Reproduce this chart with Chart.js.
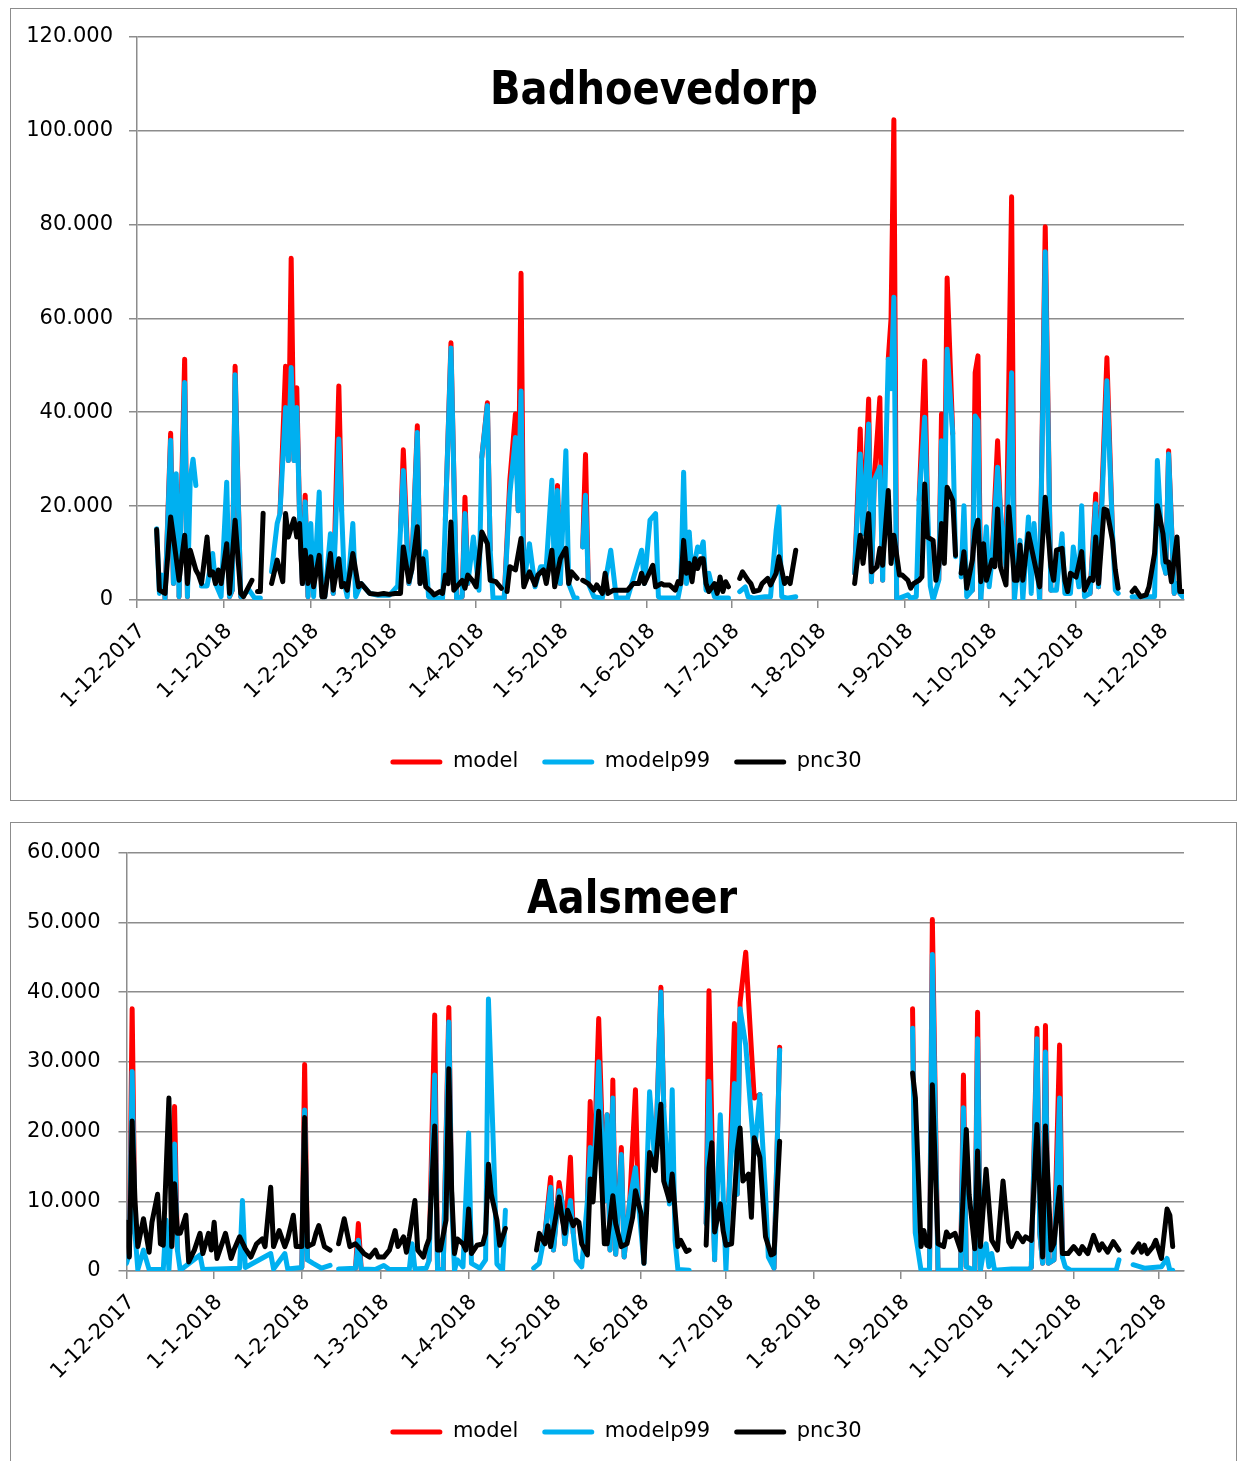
<!DOCTYPE html>
<html>
<head>
<meta charset="utf-8">
<script src="https://cdn.jsdelivr.net/npm/chart.js@4.4.0/dist/chart.umd.min.js"></script>
<style>
  html, body { margin: 0; padding: 0; background: #fff; }
  body { width: 1240px; height: 1461px; position: relative; overflow: hidden; }
  .frame { position: absolute; box-sizing: border-box; border: 1.5px solid #8c8c8c; background: #fff; }
  #f1 { left: 10px; top: 8px; width: 1227px; height: 793px; }
  #f2 { left: 10px; top: 822px; width: 1227px; height: 660px; }
  canvas { position: absolute; left: 10px; }
  #c1 { top: 8px; }
  #c2 { top: 822px; }
</style>
</head>
<body>
<div class="frame" id="f1"></div>
<div class="frame" id="f2"></div>
<canvas id="c1" width="1226" height="792"></canvas>
<canvas id="c2" width="1226" height="640"></canvas>
<script>
// x = days since 1-12-2017, y = thousands; [day, null] marks a break in the line
const monthDays = [0, 31, 62, 90, 121, 151, 182, 212, 243, 274, 304, 335, 365];
const monthLabels = ['1-12-2017', '1-1-2018', '1-2-2018', '1-3-2018', '1-4-2018', '1-5-2018', '1-6-2018',
  '1-7-2018', '1-8-2018', '1-9-2018', '1-10-2018', '1-11-2018', '1-12-2018'];
const seriesNames = ['model', 'modelp99', 'pnc30'];
const seriesColors = ['#ff0000', '#00b0f0', '#000000'];

// Badhoevedorp
const bModel = [[10,0.4],[12,35.5],[13,3.5],[14,null],[15,0.7],[17,51.3],[18,0.7],[18.5,null],
  [33,0.7],[34,2.1],[35,49.8],[37,0.7],[38,null],
  [51,18.4],[53,49.8],[54,29.7],[55,72.8],[56,29.7],[57,45.2],[58,17.7],[59,3.5],[60,22.3],[61,0.7],[61.5,null],
  [70,1.4],[72,45.6],[73,19.1],[73.5,null],[94,15],[95,32],[97,3.5],[97.5,null],[98,6.4],[100,37.1],[101,3.5],[101.5,null],
  [110,17],[112,54.8],[114,0.4],[115,null],[116,0.7],[117,21.9],[118,3.5],[119,null],[123,30.4],[125,42],[126,10.6],[126.5,null],
  [131,0.4],[133,25.5],[135,39.6],[136,19],[137,69.6],[138,3.5],[139,null],[149,3.5],[150,24.4],[151,3.5],[152,null],
  [159,11.3],[160,31],[161,3.5],[162,null],
  [256,5.7],[258,36.4],[259,14.1],[261,42.8],[262,3.9],[263,25.5],[265,43.1],[266,4.2],[267,null],
  [268,51.3],[269,60],[270,102.3],[271,0.4],[272,null],[279,21.2],[281,50.9],[282,20],[283,null],
  [286,4.2],[287,39.6],[288,17],[289,68.6],[291,35.4],[291.5,null],[298,2.1],[299,48.4],[300,52],[301,0],[302,null],
  [305,8.5],[307,33.9],[308,19.1],[308.5,null],[310,7],[312,85.9],[313,0],[314,null],[322,0],[324,79.5],[326,2.1],[327,null],
  [340,1.4],[342,22.6],[343,2.8],[346,51.6],[348,14.1],[348.5,null],[367,5.7],[368,31.8],[370,1.4]];

const bP99 = [[7,15.2],[8,1.4],[9,5.3],[10,0.4],[12,34],[13,3.5],[14,26.9],[15,0.7],[17,46.3],[18,0.7],[19,26],[20,30],[21,24.4],[22,null],
  [23,3],[25,3],[27,9.9],[28,3.5],[30,0.7],[32,25.1],[33,0.7],[34,2.1],[35,48],[37,0.7],[40,2.1],[42,0.4],[44,0.4],[46,null],
  [48,6],[50,16.3],[51,18.4],[53,41],[54,29.7],[55,49.5],[56,29.7],[57,41],[58,17.7],[59,3.5],[60,20.9],[61,0.7],[62,16.3],[63,0.7],
  [65,23],[66,0.7],[67,0.7],[69,14.1],[70,1.4],[72,34.3],[73,19.1],[74,3.5],[75,0.7],[77,16.3],[78,0.7],[80,3.5],[83,1.4],[86,1],[90,1],
  [93,3],[94,15],[95,27.6],[97,3.5],[98,6.4],[100,35.7],[101,3.5],[103,10.3],[104,0.7],[106,0.4],[109,0.4],[110,17],[112,53.7],[114,0.4],
  [116,0.7],[117,18.4],[118,3.5],[120,13.4],[122,2.1],[123,30.4],[125,41.4],[126,10.6],[127,0.4],[131,0.4],[133,22.6],[135,34.6],[136,19],
  [137,44.5],[138,3.5],[140,12],[142,2.8],[144,7.1],[146,7.1],[148,25.5],[149,3.5],[150,23.3],[151,3.5],[153,31.8],[154,3.5],[156,0.4],
  [157,0.4],[158,null],[159,11.3],[160,22.3],[161,3.5],[163,0.7],[166,0.4],[169,10.6],[171,0.4],[175,0.4],[180,10.6],[181,3.5],[183,17],
  [185,18.4],[186,0.7],[187,0.4],[193,0.4],[194,3.5],[195,27.2],[196,3.5],[197,14.5],[198,5.3],[200,11.3],[201,10.3],[202,12.4],[203,2.1],
  [204,5.7],[206,0.7],[208,0.4],[211,0.4],[213,null],[215,1.8],[217,2.8],[218,0.7],[220,0.4],[224,0.7],[226,0.7],[228,14.8],[229,19.8],
  [230,0.7],[232,0.4],[235,0.7],[245,null],[256,5.7],[258,31.1],[259,14.1],[261,37.5],[262,3.9],[263,25.5],[265,28.3],[266,4.2],[268,51.3],
  [269,45],[270,64.5],[271,0.4],[272,0.4],[275,1.1],[276,0.4],[278,0.7],[279,21.2],[281,38.9],[282,20],[283,3],[284,0],[286,4.2],[287,33.9],
  [288,17],[289,53.4],[291,35.4],[292,9.2],[293,null],[294,4.9],[295,20.1],[296,0.7],[298,2.1],[299,39.2],[300,38.2],[301,0],[303,15.6],
  [304,2.8],[305,8.5],[307,28.3],[308,19.1],[309,13],[310,7],[312,48.4],[313,0],[315,12.7],[316,0],[318,17.7],[319,1.4],[320,16.3],[322,0],
  [324,74.2],[326,2.1],[328,2.1],[330,14.1],[331,1.4],[333,1.4],[334,11.3],[336,2.8],[337,20.1],[338,0.7],[340,1.4],[342,20.5],[343,2.8],
  [346,46.7],[348,14.1],[349,2.1],[350,1.4],[352,null],[355,0.7],[363,0.7],[364,29.7],[366,7.8],[367,5.7],[368,31.1],[370,1.4],[371,3.5],
  [372,1.4],[373,0.7]];

const bPnc = [[7,15],[8,2.1],[10,1.4],[12,17.7],[13,13.4],[15,4.2],[17,13.8],[18,3.5],[19,10.6],[21,6.4],[22,5.3],[23,3.5],[25,13.4],
  [26,5.3],[27,6],[28,3.5],[29,6.4],[30,3.5],[32,12],[33,1.4],[35,17],[37,1.4],[38,0.7],[41,4.2],[42,null],[43,1.8],[44,1.8],[45,18.5],
  [46,null],[48,3.5],[50,8.5],[52,3.9],[53,18.4],[54,13.4],[56,17.3],[57,13.4],[58,16.3],[59,3.5],[60,10.6],[61,3.5],[62,9.2],[63,2.8],
  [65,9.5],[66,0.7],[67,0.7],[69,9.9],[70,2.1],[72,8.8],[73,2.8],[74,3.5],[75,2.1],[77,9.9],[79,2.8],[80,3.5],[83,1.4],[86,1.2],[88,1.4],
  [90,1.2],[92,1.4],[94,1.4],[95,11.3],[97,3.9],[98,6.4],[100,15.6],[101,3.5],[102,8.8],[103,2.8],[105,1.8],[106,1.1],[108,1.8],[109,1.4],
  [110,5.3],[111,3.5],[112,16.6],[113,2.1],[116,4.2],[117,2.5],[118,5.3],[120,3.9],[121,2.8],[123,14.5],[125,12],[126,4.2],[128,3.9],
  [130,2.5],[131,null],[132,1.8],[133,7.1],[135,6.4],[137,13.1],[138,2.8],[140,6],[142,3.2],[143,5.3],[145,6.4],[146,3.5],[148,10.6],
  [149,2.8],[151,8.8],[153,11],[154,3.5],[155,6],[157,4.6],[158,null],[159,4.2],[161,3.5],[163,2.1],[164,3.2],[166,1.4],[167,5.7],
  [168,1.4],[170,2.1],[173,2.1],[175,2.1],[177,3.5],[179,3.5],[180,5.7],[181,3.5],[184,7.4],[185,2.8],[187,3.5],[188,3.2],[190,3.2],
  [192,2.1],[193,3.9],[194,3.5],[195,12.7],[196,5.7],[197,7.8],[198,3.9],[199,8.8],[200,6.7],[201,8.8],[202,8.8],[203,3.5],[204,1.8],
  [206,3.5],[207,1.4],[208,4.9],[209,1.8],[210,3.9],[211,2.8],[213,null],[215,4.6],[216,6],[218,4.2],[219,3.5],[220,1.8],[222,2.1],
  [223,3.5],[225,4.6],[226,3.2],[228,5.7],[229,9.2],[231,3.5],[232,4.6],[233,3.5],[235,10.6],[245,null],[256,3.5],[258,13.8],[259,7.8],
  [261,18.4],[262,6],[264,7.1],[265,11],[266,7.4],[268,23.3],[269,7.8],[270,13.8],[272,5.3],[273,5.3],[275,4.2],[276,2.5],[277,3.5],
  [279,4.2],[280,4.9],[281,24.7],[282,13.4],[284,12.7],[285,4.2],[286,7.4],[287,16.3],[288,7.8],[289,24],[291,21.2],[292,9.5],[293,null],
  [294,5.7],[295,10.3],[296,2.5],[298,8.5],[299,14.8],[300,17],[301,3.9],[302,12],[303,4.2],[305,8.5],[306,7.1],[307,19.4],[308,7.1],
  [310,3.2],[311,19.8],[313,4.2],[314,4.2],[315,11.7],[316,4.2],[318,14.1],[320,8.5],[322,2.8],[324,21.9],[326,7.1],[327,4.2],[328,10.6],
  [330,11],[331,4.2],[332,1.8],[333,5.7],[335,4.9],[337,10.3],[338,2.1],[340,4.6],[341,4.2],[342,13.4],[343,3.5],[345,19.4],[346,19.1],
  [348,12.7],[349,6.4],[350,2.5],[352,null],[355,1.8],[356,2.5],[358,0.7],[360,1.1],[361,2.8],[363,9.9],[364,20.1],[366,14.1],[367,8.1],
  [368,8.1],[369,3.9],[371,13.4],[372,1.8],[373,1.8]];

// Aalsmeer
const aModel = [[1,2.4],[2,37.6],[3,5.4],[3.5,null],[16,7],[17,23.6],[18,3],[18.5,null],[62,0.5],[63,29.6],[64,1.6],[65,null],
  [81,0.4],[82,6.8],[83,0.3],[84,null],[107,1.5],[109,36.7],[110,0.2],[111,null],[112,0.2],[114,37.8],[115,10.1],[115.5,null],
  [148,5.4],[150,13.4],[151,3],[153,12.7],[154,10],[155,3.9],[157,16.3],[158,5.4],[158.5,null],
  [163,10],[164,24.3],[165,11],[167,36.2],[169,10],[170,22.4],[171,3],[172,27.4],[173,2.4],[175,17.7],[176,2],[178,10.1],[180,26],[181,10],[181.5,null],
  [187,14.8],[189,40.7],[190,23.5],[190.5,null],[205,6.8],[206,40.2],[208,1.6],[209,null],
  [213,10],[215,35.5],[216,11],[217,38.5],[219,45.7],[222,24.8],[224,25.3],[224.5,null],[229,0.4],[231,32.1],[250,null],
  [278,37.6],[279,5.4],[280,null],[284,0.1],[285,50.4],[287,0.1],[288,null],[295,0.1],[296,28.1],[297,0.6],[298,null],
  [300,0.1],[301,37.1],[302,0.1],[303,null],[320,0.5],[322,34.8],[323,5.4],[324,1.1],[325,35.2],[326,1.1],[328,1.6],[330,32.4],[331,2]];

const aP99 = [[0,1.1],[1,2.4],[2,28.6],[3,5.4],[4,0.2],[6,3],[8,0.2],[13,0.2],[14,7.3],[15,0.2],[16,7],[17,18.2],[18,3],[19,0.1],
  [26,2.3],[27,0.2],[40,0.4],[41,10.1],[42,0.5],[51,2.5],[52,0.3],[56,2.5],[57,0.3],[62,0.5],[63,23.1],[64,1.6],[66,1.1],[69,0.4],
  [72,0.8],[73,null],[75,0.3],[81,0.4],[82,4.4],[83,0.3],[88,0.2],[91,0.8],[93,0.2],[100,0.2],[101,3.9],[102,0.3],[106,0.4],[107,1.5],
  [109,28.1],[110,0.2],[112,0.2],[114,35.7],[115,10.1],[116,0.1],[117,1.6],[119,0.6],[121,19.8],[122,1.1],[125,0.4],[127,1.6],[128,39],
  [130,14.8],[131,1],[133,0.1],[134,8.7],[140,null],[144,0.4],[146,1.1],[148,5.4],[150,12],[151,3],[153,11.5],[154,10],[155,3.9],
  [157,10.1],[158,5.4],[159,1.6],[161,0.6],[163,10],[164,17.7],[165,11],[167,30],[169,10],[170,22.4],[171,3],[172,24.8],[173,2.4],
  [175,16.7],[176,2],[178,10.1],[180,14.8],[181,10],[183,1.1],[185,25.7],[187,14.8],[189,40],[190,23.5],[192,9.6],[193,26],[194,4.4],
  [195,0.2],[199,0.1],[202,null],[205,6.8],[206,27.2],[208,1.6],[210,22.4],[212,0.1],[213,10],[215,26.9],[216,11],[217,37.6],[219,32.4],
  [222,16.7],[224,25.3],[226,11],[227,2],[229,0.4],[231,31.7],[250,null],[278,34.8],[279,5.4],[281,0.1],[284,0.1],[285,45.4],[287,0.1],
  [295,0.1],[296,23.4],[297,0.6],[300,0.1],[301,33.3],[302,0.1],[303,2.5],[304,3.9],[305,0.6],[306,2.5],[307,0.1],[313,0.3],[316,0.3],
  [319,0.3],[320,0.5],[322,33.3],[323,5.4],[324,1.1],[325,31.4],[326,1.1],[328,1.6],[330,24.8],[331,2],[332,0.6],[334,0.1],[350,0.1],
  [351,1.6],[353,null],[356,0.9],[360,0.4],[366,0.6],[368,1.8],[369,0.1],[370,0.1]];

const aPnc = [[0,7],[1,2],[2,21.5],[3,10.1],[4,3.5],[6,7.5],[8,2.7],[9,7],[11,11],[12,3.9],[13,3.7],[15,24.8],[16,3.5],[17,12.5],
  [18,5.4],[19,5.4],[21,8],[22,1.3],[24,3],[26,5.4],[27,2.5],[29,5.4],[30,3],[31,7],[32,1.8],[35,5.4],[37,1.8],[38,3],[40,4.9],[42,3.2],
  [44,2],[46,3.9],[48,4.6],[49,3.5],[51,12],[52,3.5],[54,5.8],[56,3.5],[57,4.6],[59,8],[60,3.5],[62,3.5],[63,22],[64,3.5],[66,3.9],
  [67,5.4],[68,6.5],[70,3.5],[72,3],[73,null],[75,3.9],[77,7.5],[79,3.5],[81,3.9],[83,3],[84,2.5],[86,2],[88,3],[89,2],[91,2],[93,3],
  [95,5.8],[96,3.5],[98,4.9],[99,2.7],[100,4.9],[102,10.1],[103,3],[105,2],[106,3.5],[107,4.6],[109,20.8],[110,3],[111,3],[113,7.3],
  [114,29],[115,11.5],[116,2.5],[117,4.6],[119,3.9],[120,3],[121,8.9],[122,2.5],[124,3.7],[126,3.9],[127,5.4],[128,15.3],[129,11],
  [131,7.3],[132,3.7],[134,6.1],[140,null],[145,3],[146,5.4],[148,3.9],[149,6.5],[150,3.5],[153,10.6],[154,7.7],[155,5.4],[156,8.7],
  [158,6.5],[159,7.3],[160,7],[161,3.9],[163,2.3],[164,13.2],[165,9.9],[167,22.9],[169,3.9],[170,3.9],[172,10.8],[173,6.8],[175,3.5],
  [177,3.9],[179,7.7],[180,11.5],[182,8.2],[183,1.1],[185,17],[187,14.4],[189,23.9],[190,12.9],[192,10.1],[193,13.9],[194,8.7],[195,3.5],
  [196,4.4],[198,2.8],[199,3],[202,null],[205,3.7],[206,14.8],[207,18.4],[208,5.6],[210,9.6],[211,5.8],[212,3.7],[214,3.9],[216,17.2],
  [217,20.5],[218,12.9],[220,13.9],[221,7.7],[222,19.1],[224,16.3],[226,4.9],[228,2.3],[229,2.5],[231,18.6],[250,null],[278,28.4],
  [279,24.8],[281,3.5],[282,5.8],[283,3.7],[284,3.5],[285,26.7],[287,3.9],[289,3.5],[290,5.6],[291,4.9],[293,5.4],[295,3],[297,20.3],
  [298,11],[300,3.2],[301,17.2],[302,3.5],[304,14.6],[306,4.4],[308,3],[310,12.9],[312,4.2],[313,3.5],[315,5.4],[317,4.2],[318,4.9],
  [320,4.4],[322,21],[323,11.5],[324,2],[325,20.8],[327,3],[328,3.9],[330,12],[331,2.5],[333,2.5],[335,3.5],[337,2.5],[338,3.5],
  [340,2.5],[342,5.1],[344,3],[345,3.9],[347,2.7],[349,4.2],[351,3],[353,null],[356,2.7],[358,3.9],[359,2.7],[360,3.7],[361,2.5],
  [363,3.5],[364,4.4],[366,1.8],[368,8.9],[369,8],[370,3.5]];

Chart.defaults.font.family = '"DejaVu Sans", sans-serif';
Chart.defaults.font.size = 21;
Chart.defaults.color = '#000';

const GRID = '#8c8c8c';

// title sits inside the plot area, so draw it ourselves
const innerTitle = {
  id: 'innerTitle',
  afterDraw(chart, args, o) {
    const ctx = chart.ctx;
    ctx.save();
    ctx.font = 'bold ' + o.size + 'px "DejaVu Sans", sans-serif';
    ctx.fillStyle = '#000';
    ctx.textAlign = 'center';
    ctx.textBaseline = 'alphabetic';
    const w = ctx.measureText(o.text).width;
    ctx.translate(o.x, o.y);
    ctx.scale(o.width / w, 1);
    ctx.fillText(o.text, 0, 0);
    ctx.restore();
  }
};

// legend in the original is not centred on the canvas; nudge it sideways
const legendShift = {
  id: 'legendShift',
  afterLayout(chart, args, o) {
    if (chart.legend) { chart.legend.left += o.dx; chart.legend.right += o.dx; }
  }
};

function toXY(arr) { return arr.map(p => ({ x: p[0], y: p[1] })); }

function makeChart(id, series, c) {
  const datasets = series.map((d, i) => ({
    label: seriesNames[i],
    data: toXY(d),
    borderColor: seriesColors[i],
    backgroundColor: seriesColors[i],
    borderWidth: 5,
    borderCapStyle: 'round',
    borderJoinStyle: 'round',
    pointRadius: 0,
    pointHoverRadius: 0,
    tension: 0,
    spanGaps: false,
    order: 3 - i
  }));
  return new Chart(document.getElementById(id), {
    type: 'line',
    data: { datasets },
    plugins: [innerTitle, legendShift],
    options: {
      responsive: false,
      animation: false,
      devicePixelRatio: 1,
      layout: { padding: { left: 0, right: 52, top: 28, bottom: c.padBottom } },
      scales: {
        x: {
          type: 'linear', min: 0, max: c.xMax,
          afterBuildTicks: s => { s.ticks = monthDays.map(v => ({ value: v })); },
          afterFit: s => { s.height = c.xHeight; },
          grid: { drawOnChartArea: false, drawTicks: true, tickLength: 8, color: GRID, lineWidth: 1.5 },
          border: { display: true, color: GRID, width: 1.5 },
          ticks: {
            autoSkip: false, minRotation: 45, maxRotation: 45, padding: 11, labelOffset: 5,
            callback: v => monthLabels[monthDays.indexOf(v)]
          }
        },
        y: {
          min: 0, max: c.yMax,
          afterFit: s => { s.width = c.yWidth; },
          grid: { color: GRID, lineWidth: 1.5, tickLength: 8 },
          border: { display: true, color: GRID, width: 1.5 },
          ticks: { stepSize: c.yStep, padding: c.yPad, callback: v => v === 0 ? '0' : v + '.000' }
        }
      },
      plugins: {
        tooltip: { enabled: false },
        legend: {
          position: 'bottom',
          labels: {
            boxWidth: 52, boxHeight: 5, padding: 24,
            useBorderRadius: true, borderRadius: 2.5,
            generateLabels: ch => Chart.defaults.plugins.legend.labels.generateLabels(ch)
              .map(l => Object.assign(l, { lineWidth: 0, fillStyle: l.strokeStyle })),
            sort: (a, b) => a.datasetIndex - b.datasetIndex
          }
        },
        legendShift: { dx: 29 },
        innerTitle: c.title
      }
    }
  });
}

makeChart('c1', [bModel, bP99, bPnc], {
  xMax: 373.5, yMax: 120, yStep: 20, yWidth: 127, yPad: 16, xHeight: 127.5, padBottom: 17.5,
  title: { text: 'Badhoevedorp', x: 644, y: 96, size: 46, width: 328 }
});
makeChart('c2', [aModel, aP99, aPnc], {
  xMax: 374, yMax: 60, yStep: 10, yWidth: 116.5, yPad: 18, xHeight: 126.5, padBottom: 9.5,
  title: { text: 'Aalsmeer', x: 622, y: 91, size: 46, width: 210 }
});
</script>
</body>
</html>
